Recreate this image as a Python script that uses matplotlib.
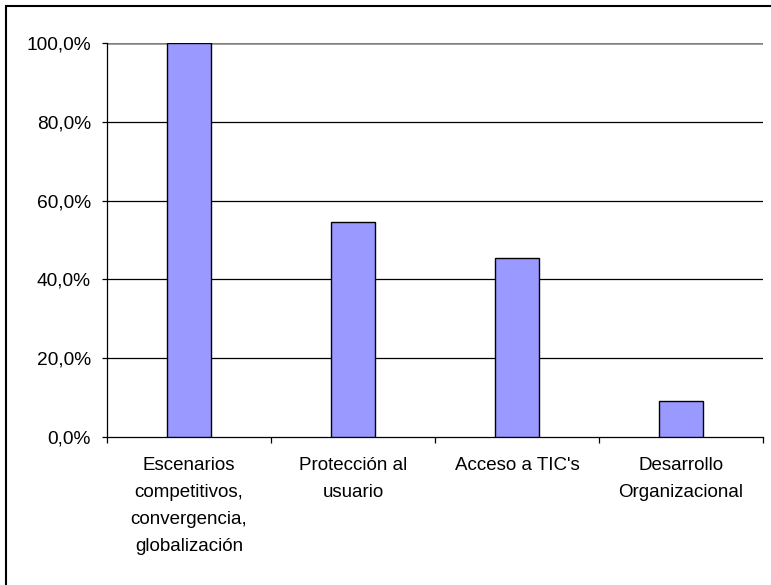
import matplotlib.pyplot as plt
from matplotlib.patches import Rectangle
from matplotlib.ticker import FuncFormatter, MultipleLocator, FixedLocator

categories = [
    "Escenarios\ncompetitivos,\nconvergencia,\nglobalización",
    "Protección al\nusuario",
    "Acceso a TIC's",
    "Desarrollo\nOrganizacional",
]
values = [100.0, 54.5, 45.5, 9.1]

plt.rcParams["font.family"] = ["Liberation Sans", "DejaVu Sans"]

fig = plt.figure(figsize=(7.71, 5.85), dpi=100)
ax = fig.add_axes([0.1388, 0.2530, 0.8508, 0.6735])

pos = list(range(len(categories)))
ax.bar(pos, values, width=0.27, color="#9999FF", edgecolor="black",
       linewidth=1.0, zorder=3)

ax.set_xlim(-0.5, len(categories) - 0.5)
ax.set_ylim(0, 100)
ax.yaxis.set_major_locator(MultipleLocator(20))
ax.yaxis.set_major_formatter(FuncFormatter(lambda v, p: f"{v:.1f}%".replace(".", ",")))

# gridlines (top one is grey as in the source)
for v in range(20, 100, 20):
    ax.axhline(v, color="black", linewidth=0.9, zorder=1)
ax.axhline(100, color="#808080", linewidth=1.8, zorder=1)

# category labels drawn as annotations so the line spacing sticks
ax.set_xticks([])
for p, name in zip(pos, categories):
    ax.annotate(name, xy=(p, 0), xycoords=("data", "axes fraction"),
                xytext=(0, -14.5), textcoords="offset points",
                ha="center", va="top", fontsize=13.5, linespacing=1.76)
ax.xaxis.set_minor_locator(FixedLocator([p - 0.5 for p in pos] + [len(pos) - 0.5]))
ax.tick_params(axis="x", which="minor", length=4.5, width=0.9, direction="out")
ax.tick_params(axis="y", length=3.6, width=0.9, pad=8, labelsize=13.8)

for s in ["top", "right"]:
    ax.spines[s].set_visible(False)
ax.spines["left"].set_linewidth(0.9)
ax.spines["bottom"].set_linewidth(0.9)
ax.spines["bottom"].set_color("black")

# outer chart border (right/bottom edges fall outside the image)
fig.patches.append(Rectangle((6 / 771, -0.05), 1.1, 1.05 - 6 / 585,
                             transform=fig.transFigure, fill=False,
                             edgecolor="black", linewidth=1.5))

fig.savefig("out.png", dpi=100)
